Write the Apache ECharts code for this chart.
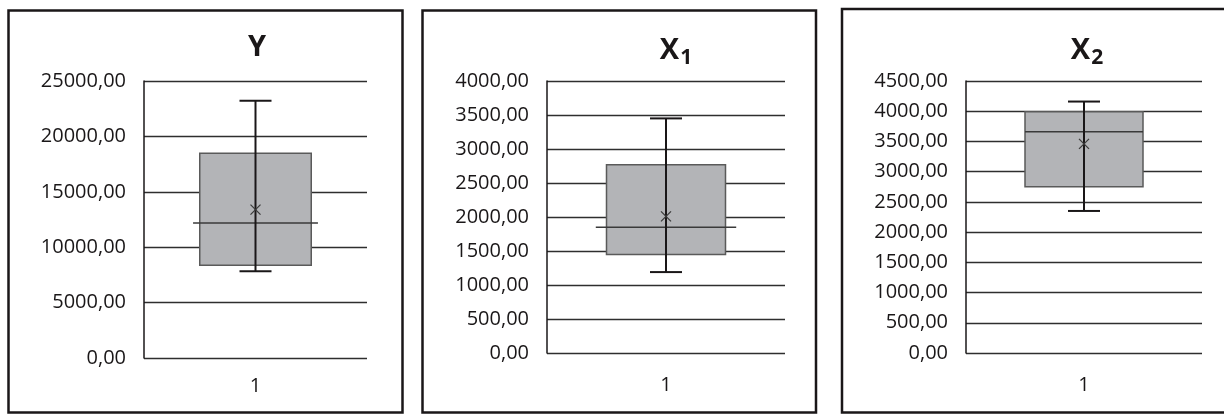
<!DOCTYPE html>
<html>
<head>
<meta charset="utf-8">
<script src="https://cdn.jsdelivr.net/npm/echarts@6/dist/echarts.min.js"></script>
<style>
  html, body { margin: 0; padding: 0; background: #fff; }
  #chart { width: 1224px; height: 414px; }
</style>
</head>
<body>
<div id="chart"></div>
<script>
// category on each x axis
const categories = ['1'];

// box stats per variable: [min, q1, median, q3, max]
const statsY  = [7820, 8370, 12180, 18480, 23210];
const statsX1 = [1190, 1450, 1850, 2770, 3450];
const statsX2 = [2350, 2750, 3660, 3990, 4160];

// means (the x marks)
const meanY  = 13390;
const meanX1 = 2010;
const meanX2 = 3460;

// y axis ranges
const yMax      = [25000, 4000, 4500];
const yInterval = [5000, 500, 500];

const titles = ['Y', 'X{sub|1}', 'X{sub|2}'];

const chart = echarts.init(document.getElementById('chart'));

const ink = '#1a1718';
const font = '"Open Sans", "DejaVu Sans", sans-serif';

// grid layout per panel (left, top, width, height)
const grids = [
    { left: 144, top: 81, width: 223, height: 277 },
    { left: 547, top: 81, width: 238, height: 272 },
    { left: 966, top: 81, width: 236, height: 272 }
];
const titleX = [252, 671, 1082];
const labelMargin = [18, 22, 22];
// how far the median line reaches, as a share of the band
const medianSpan = [0.56, 0.59, 0.5];

const allStats = [statsY, statsX1, statsX2];
const allMeans = [meanY, meanX1, meanX2];

const makeRender = idx => (params, api) => {
    const cx = api.coord([api.value(0), 0])[0];
    const band = api.size([1, 0])[0];
    const y = dim => api.coord([api.value(0), api.value(dim)])[1];
    const yMin = y(1), yQ1 = y(2), yMed = y(3), yQ3 = y(4), yMx = y(5), yMean = y(6);
    const half = band * 0.25;
    const medHalf = band * medianSpan[idx] / 2;
    const cap = 16;
    const m = 5;
    return {
        type: 'group',
        children: [
            {
                type: 'rect',
                shape: { x: cx - half, y: yQ3, width: half * 2, height: yQ1 - yQ3 },
                style: { fill: '#b3b4b7', stroke: '#5a5a5a', lineWidth: 1.5 }
            },
            {
                type: 'line',
                shape: { x1: cx - medHalf, y1: yMed, x2: cx + medHalf, y2: yMed },
                style: { stroke: '#3a3a3a', lineWidth: 1.6 }
            },
            {
                type: 'line',
                shape: { x1: cx, y1: yMx, x2: cx, y2: yMin },
                style: { stroke: ink, lineWidth: 2 }
            },
            {
                type: 'line',
                shape: { x1: cx - cap, y1: yMx, x2: cx + cap, y2: yMx },
                style: { stroke: ink, lineWidth: 2 }
            },
            {
                type: 'line',
                shape: { x1: cx - cap, y1: yMin, x2: cx + cap, y2: yMin },
                style: { stroke: ink, lineWidth: 2 }
            },
            {
                type: 'line',
                shape: { x1: cx - m, y1: yMean - m, x2: cx + m, y2: yMean + m },
                style: { stroke: '#3a3a3a', lineWidth: 1.2 }
            },
            {
                type: 'line',
                shape: { x1: cx - m, y1: yMean + m, x2: cx + m, y2: yMean - m },
                style: { stroke: '#3a3a3a', lineWidth: 1.2 }
            }
        ]
    };
};

const option = {
    backgroundColor: '#fff',
    animation: false,
    graphic: [
        { type: 'rect', shape: { x: 8.5, y: 10.5, width: 394, height: 402 }, style: { fill: 'none', stroke: ink, lineWidth: 2.5 } },
        { type: 'rect', shape: { x: 422.5, y: 10.5, width: 393.5, height: 402 }, style: { fill: 'none', stroke: ink, lineWidth: 2.5 } },
        { type: 'rect', shape: { x: 842, y: 9, width: 400, height: 403.5 }, style: { fill: 'none', stroke: ink, lineWidth: 2.5 } }
    ],
    title: titles.map((t, i) => ({
        text: t,
        left: titleX[i],
        top: 28,
        textAlign: 'center',
        textStyle: {
            fontFamily: font,
            fontSize: 29,
            fontWeight: 'bold',
            color: ink,
            rich: {
                sub: {
                    fontFamily: font,
                    fontSize: 21,
                    fontWeight: 'bold',
                    color: ink,
                    padding: [15, 0, 0, 1]
                }
            }
        }
    })),
    grid: grids,
    xAxis: grids.map((g, i) => ({
        type: 'category',
        gridIndex: i,
        data: categories,
        axisLine: { show: false },
        axisTick: { show: false },
        axisLabel: { color: ink, fontFamily: font, fontSize: 20, margin: labelMargin[i] }
    })),
    yAxis: grids.map((g, i) => ({
        type: 'value',
        gridIndex: i,
        min: 0,
        max: yMax[i],
        interval: yInterval[i],
        axisLine: { show: true, lineStyle: { color: ink, width: 1.5 } },
        axisTick: { show: false },
        splitLine: { show: true, lineStyle: { color: '#2e2e2e', width: 1.3 } },
        axisLabel: {
            color: ink,
            fontFamily: font,
            fontSize: 20,
            margin: 18,
            formatter: v => v.toFixed(2).replace('.', ',')
        }
    })),
    series: allStats.map((s, i) => ({
        type: 'custom',
        xAxisIndex: i,
        yAxisIndex: i,
        renderItem: makeRender(i),
        encode: { x: 0, y: [1, 2, 3, 4, 5, 6] },
        data: [[0, ...s, allMeans[i]]]
    }))
};

chart.setOption(option);
</script>
</body>
</html>
